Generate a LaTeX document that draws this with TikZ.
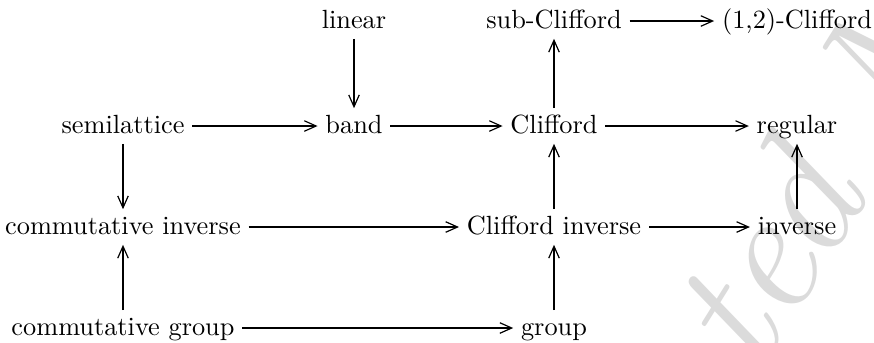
\documentclass[tikz,border=0pt]{standalone}
\usetikzlibrary{arrows.meta}
\begin{document}
\begin{tikzpicture}[x=0.38pt,y=-0.38pt,
  lbl/.style={inner sep=3pt,outer sep=0pt,text height=1.5ex,text depth=0.25ex},
  arr/.style={-{Straight Barb[length=4.5pt,width=4pt]},line width=0.45pt},
  wmark/.style={rotate=58,text=black!14,inner sep=0pt,font=\fontsize{66}{66}\selectfont\itshape}]
\useasboundingbox (0,0) rectangle (874,342);
\clip (0,0) rectangle (874,342);
\coordinate (wq) at (756,378);
\node[wmark,anchor=base east] (wma) at (wq) {Accep};
\node[wmark,anchor=base west] (wmb) at (wq) {ted Manuscript};
% nodes
\node[lbl] (lin)    at (354,21)  {linear};
\node[lbl] (sub)    at (554,21)  {sub-Clifford};
\node[lbl] (onetwo) at (797,21)  {(1,2)-Clifford};
\node[lbl] (semi)   at (123,126) {semilattice};
\node[lbl] (band)   at (354,126) {band};
\node[lbl] (cliff)  at (554,126) {Clifford};
\node[lbl] (reg)    at (797,126) {regular};
\node[lbl] (cinv)   at (123,227) {commutative inverse};
\node[lbl] (clinv)  at (554,227) {Clifford inverse};
\node[lbl] (inv)    at (797,227) {inverse};
\node[lbl] (cgrp)   at (123,328) {commutative group};
\node[lbl] (grp)    at (554,328) {group};
% arrows
\draw[arr] (lin) -- (band);
\draw[arr] (sub) -- (onetwo);
\draw[arr] (semi) -- (band);
\draw[arr] (band) -- (cliff);
\draw[arr] (cliff) -- (reg);
\draw[arr] (semi) -- (cinv);
\draw[arr] (cliff) -- (sub);
\draw[arr] (clinv) -- (cliff);
\draw[arr] (inv) -- (reg);
\draw[arr] (cinv) -- (clinv);
\draw[arr] (clinv) -- (inv);
\draw[arr] (cgrp) -- (cinv);
\draw[arr] (grp) -- (clinv);
\draw[arr] (cgrp) -- (grp);
\end{tikzpicture}
\end{document}
